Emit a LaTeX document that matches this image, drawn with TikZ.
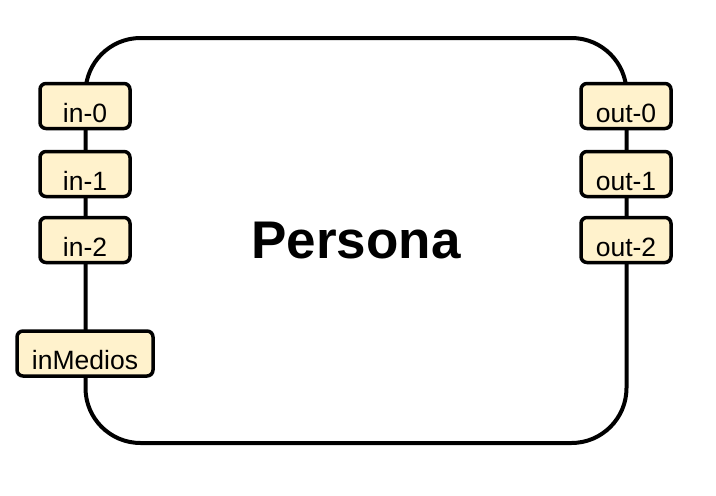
\documentclass[tikz,border=0pt]{standalone}
\usepackage{fontspec}
\setmainfont{Liberation Sans}
\usetikzlibrary{positioning}
\definecolor{PortFill}{RGB}{255,242,204}

\begin{document}
\begin{tikzpicture}[
    x=1pt, y=-1pt,
    body/.style={rectangle, draw, line width=4pt, rounded corners=55pt, minimum width=541pt, minimum height=405pt, inner sep=0pt, font=\fontsize{53}{60}\selectfont\bfseries},
    port/.style={rectangle, draw, line width=3.5pt, rounded corners=6pt, fill=PortFill, minimum width=90pt, minimum height=45pt, inner sep=0pt, text height=32pt, text depth=0pt, font=\fontsize{26.5}{30}\selectfont},
]
\useasboundingbox (0,0) rectangle (716,496);

\node[body] (persona) at (356,240.5) {Persona};

% ports
\node[port] (in0) at (85,106) {in-0};
\node[port] (in1) at (85,174) {in-1};
\node[port] (in2) at (85,240) {in-2};
\node[port, minimum width=136pt] (inmedios) at (85,353.5) {inMedios};
\node[port] (out0) at (626,106) {out-0};
\node[port] (out1) at (626,174) {out-1};
\node[port] (out2) at (626,240) {out-2};
\end{tikzpicture}
\end{document}
